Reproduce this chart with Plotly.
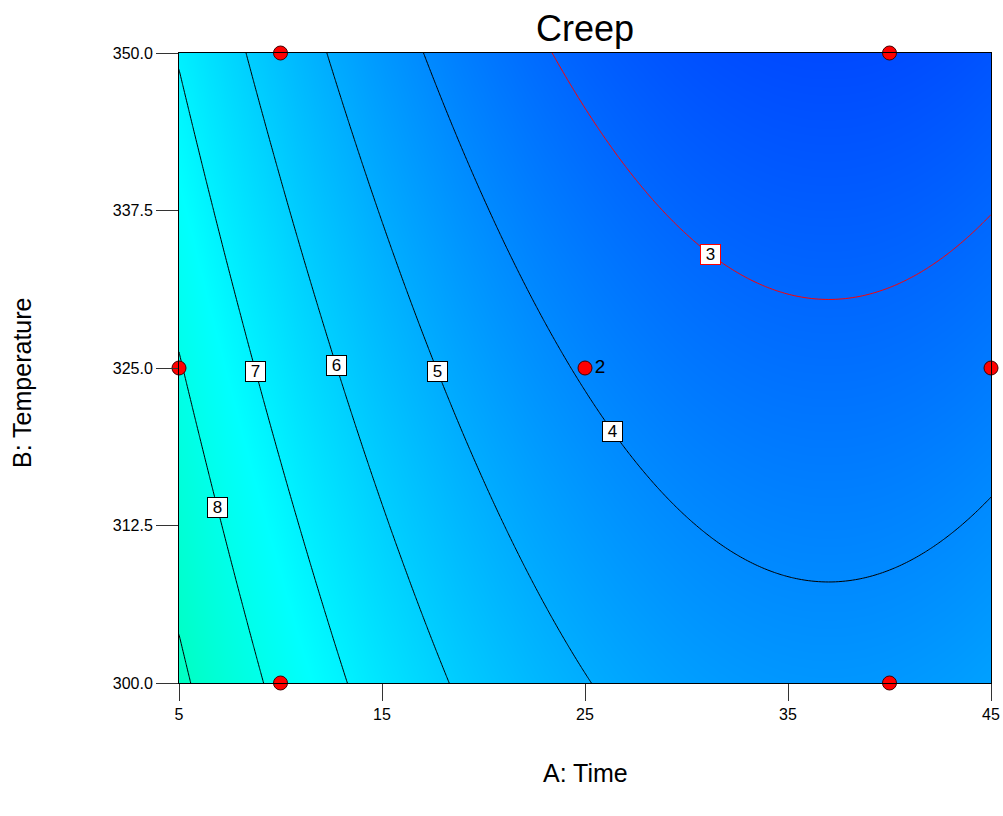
import numpy as np
import plotly.graph_objects as go

# ---------------- data ----------------
# Design points (A: Time, B: Temperature) and replicate counts
design_time = [10, 40, 5, 25, 45, 10, 40]
design_temp = [350, 350, 325, 325, 325, 300, 300]
design_label = ["", "", "", "2", "", "", ""]

# Fitted quadratic model for Creep in coded units
# a = (Time - 25) / 20, b = (Temp - 325) / 25
coef_intercept = 3.92
coef_a = -2.257
coef_b = -1.115
coef_ab = 0.0
coef_a2 = 1.88
coef_b2 = 0.0

# Contour levels
black_levels = [4, 5, 6, 7, 8, 9]
red_levels = [3]

# Contour label levels and the temperature at which each label sits
label_levels = [3, 4, 5, 6, 7, 8]
label_temps = [334.0, 320.0, 324.7, 325.2, 324.7, 313.9]

x_ticks = [5, 15, 25, 35, 45]
y_ticks = [300.0, 312.5, 325.0, 337.5, 350.0]

# ---------------- model ----------------
def creep(A, B):
    a = (A - 25.0) / 20.0
    b = (B - 325.0) / 25.0
    return (coef_intercept + coef_a * a + coef_b * b + coef_ab * a * b
            + coef_a2 * a * a + coef_b2 * b * b)

def time_on_level(level, temp):
    b = (temp - 325.0) / 25.0
    qa = coef_a2
    qb = coef_a + coef_ab * b
    qc = coef_intercept + coef_b * b + coef_b2 * b * b - level
    a = (-qb - np.sqrt(qb * qb - 4 * qa * qc)) / (2 * qa)
    return 25.0 + 20.0 * a

A_grid = np.linspace(5, 45, 241)
B_grid = np.linspace(300, 350, 241)
AA, BB = np.meshgrid(A_grid, B_grid)
Z = creep(AA, BB)

FONT = "Liberation Sans, Arial, sans-serif"

fig = go.Figure()

fig.add_trace(go.Heatmap(
    x=A_grid, y=B_grid, z=Z, zsmooth="best",
    zmin=0, zmax=14.8,
    colorscale=[[0, "rgb(0,0,255)"], [0.5, "rgb(0,255,255)"], [1, "rgb(0,255,0)"]],
    showscale=False, hoverinfo="skip",
))

fig.add_trace(go.Contour(
    x=A_grid, y=B_grid, z=Z,
    contours=dict(start=min(black_levels), end=max(black_levels), size=1,
                  coloring="lines", showlabels=False),
    colorscale=[[0, "black"], [1, "black"]],
    line=dict(width=1, smoothing=1),
    showscale=False, hoverinfo="skip",
))

fig.add_trace(go.Contour(
    x=A_grid, y=B_grid, z=Z,
    contours=dict(start=red_levels[0], end=red_levels[-1], size=1,
                  coloring="lines", showlabels=False),
    colorscale=[[0, "red"], [1, "red"]],
    line=dict(width=1, smoothing=1),
    showscale=False, hoverinfo="skip",
))

fig.add_trace(go.Scatter(
    x=design_time, y=design_temp, mode="markers+text",
    text=design_label, textposition="middle right",
    textfont=dict(family=FONT, size=19, color="black"),
    marker=dict(symbol="circle", size=14, color="red",
                line=dict(color="#400000", width=1)),
    cliponaxis=False, showlegend=False, hoverinfo="skip",
))

annotations = []
for lev, tmp in zip(label_levels, label_temps):
    annotations.append(dict(
        x=float(time_on_level(lev, tmp)), y=tmp, xref="x", yref="y",
        text=str(lev), showarrow=False,
        font=dict(family=FONT, size=17, color="black"),
        bgcolor="white", bordercolor="red" if lev in red_levels else "black",
        borderwidth=1, borderpad=0, width=19, height=19,
    ))

annotations.append(dict(
    x=0.5, y=-(773 - 683) / 630, xref="paper", yref="paper",
    text="A: Time", showarrow=False, xanchor="center", yanchor="middle",
    font=dict(family=FONT, size=25, color="black"),
))
annotations.append(dict(
    x=(22 - 179) / 812, y=(683 - 383) / 630, xref="paper", yref="paper",
    text="B: Temperature", showarrow=False, textangle=-90,
    xanchor="center", yanchor="middle",
    font=dict(family=FONT, size=25, color="black"),
))

fig.update_layout(
    width=1003, height=816,
    margin=dict(l=179, r=12, t=53, b=133, autoexpand=False),
    paper_bgcolor="white", plot_bgcolor="white",
    title=dict(text="Creep", x=585 / 1003, xanchor="center",
               y=1 - 28 / 816, yanchor="middle", yref="container",
               font=dict(family=FONT, size=36, color="black")),
    showlegend=False,
    annotations=annotations,
    xaxis=dict(range=[5, 45], tickvals=x_ticks, ticktext=[str(v) for v in x_ticks],
               ticks="outside", ticklen=17, tickcolor="#333", tickwidth=1,
               showline=True, linecolor="black", linewidth=1, mirror=True,
               showgrid=False, zeroline=False, automargin=False,
               ticklabeloverflow="allow",
               tickfont=dict(family=FONT, size=16, color="black")),
    yaxis=dict(range=[300, 350], tickvals=y_ticks, ticktext=[f"{v:.1f}" for v in y_ticks],
               ticks="outside", ticklen=22, tickcolor="#333", tickwidth=1,
               showline=True, linecolor="black", linewidth=1, mirror=True,
               showgrid=False, zeroline=False, automargin=False,
               tickfont=dict(family=FONT, size=16, color="black")),
)

fig.write_html("out.html")
